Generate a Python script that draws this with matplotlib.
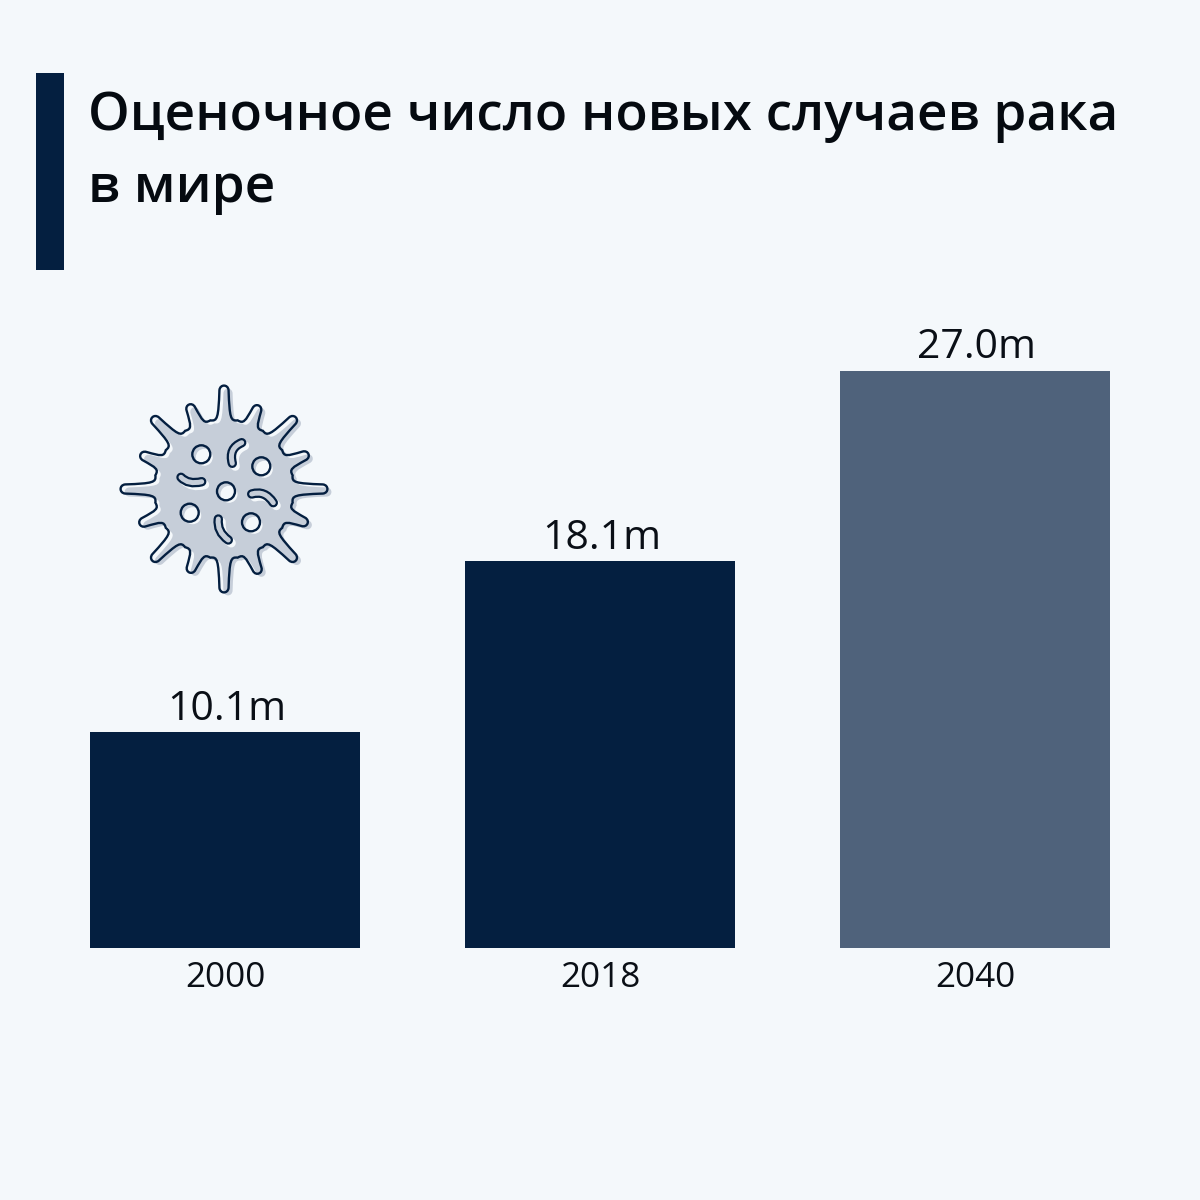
import numpy as np
import matplotlib.pyplot as plt
from matplotlib.patches import Circle, PathPatch, Rectangle
from matplotlib.path import Path

plt.rcParams["font.family"] = ["Open Sans", "DejaVu Sans"]

years = ["2000", "2018", "2040"]
cases = [10.1, 18.1, 27.0]
labels = ["10.1m", "18.1m", "27.0m"]
title_lines = ["Оценочное число новых случаев рака", "в мире"]

BG = "#f4f8fb"
NAVY = "#041f40"
SLATE = "#4f627b"
VIRUS_FILL = "#c6ced9"
bar_colors = [NAVY, NAVY, SLATE]

fig = plt.figure(figsize=(12, 12), dpi=100, facecolor=BG)

# overlay in pixel coords for the title block and the icon
over = fig.add_axes([0, 0, 1, 1])
over.set_xlim(0, 1200)
over.set_ylim(1200, 0)
over.axis("off")

over.add_patch(Rectangle((36, 73), 28, 197, color=NAVY, lw=0))
over.text(88, 130, title_lines[0], fontsize=38.2, fontweight=600, color="#050a10", va="baseline")
over.text(88, 202, title_lines[1], fontsize=38.2, fontweight=600, color="#050a10", va="baseline")

# bars
ax = fig.add_axes([90 / 1200, (1200 - 948) / 1200, 1020 / 1200, 577 / 1200])
ax.set_facecolor("none")
x = np.arange(len(years))
bars = ax.bar(x, cases, width=0.72, color=bar_colors)
ax.set_xlim(-0.36, 2.36)
ax.set_ylim(0, 27.0)
ax.set_xticks(x)
ax.set_xticklabels(years, fontsize=25.3, color="#0a0f16")
ax.tick_params(axis="x", length=0, pad=9.5)
ax.set_yticks([])
for s in ax.spines.values():
    s.set_visible(False)

for rect, lab in zip(bars, labels):
    ax.annotate(lab, (rect.get_x() + rect.get_width() / 2, rect.get_height()),
                xytext=(1, 9), textcoords="offset points", ha="center",
                va="baseline", fontsize=29.5, color="#0a0f16", annotation_clip=False)


# virus icon
def virus_path(cx, cy):
    tips = [104, 91, 102, 92] * 4
    n = len(tips)
    valley = 70
    half = np.pi / n
    verts, codes = [], []

    def pt(a, r):
        return (cx + r * np.sin(a), cy - r * np.cos(a))

    for i, tip in enumerate(tips):
        a = i * 2 * half
        if i == 0:
            verts.append(pt(a - half, valley))
            codes.append(Path.MOVETO)
        neck = 4.8 / tip
        verts += [pt(a - half * 0.5, valley - 2), pt(a - neck * 1.7, valley + 1),
                  pt(a - neck, tip - 5)]
        verts += [pt(a - neck * 0.8, tip + 1), pt(a + neck * 0.8, tip + 1),
                  pt(a + neck, tip - 5)]
        verts += [pt(a + neck * 1.7, valley + 1), pt(a + half * 0.5, valley - 2),
                  pt(a + half, valley)]
        codes += [Path.CURVE4] * 9
    verts.append(verts[0])
    codes.append(Path.CLOSEPOLY)
    return Path(verts, codes)


vx, vy = 224, 489
over.add_patch(PathPatch(virus_path(vx + 4, vy + 3), fc=VIRUS_FILL, ec="none"))
over.add_patch(PathPatch(virus_path(vx, vy), fc="none", ec=NAVY, lw=1.7))

circle_x = [201.3, 261.3, 226, 189.7, 251]
circle_y = [454.3, 466.3, 491.3, 512.7, 522.3]
for cx, cy in zip(circle_x, circle_y):
    over.add_patch(Circle((cx + 3, cy + 3), 8.5, fc=BG, ec="none"))
    over.add_patch(Circle((cx, cy), 9, fc="none", ec=NAVY, lw=1.7))

beans = [
    [(241.7, 442.7), (228.3, 448.3), (232.3, 463.3)],
    [(181, 477.3), (188.3, 485), (201.7, 481.7)],
    [(251.7, 494), (265, 490), (273.3, 502.7)],
    [(218.3, 519), (216.7, 531.7), (228.3, 540)],
]
for b in beans:
    codes = [Path.MOVETO, Path.CURVE3, Path.CURVE3]
    shifted = [(px + 3, py + 3) for px, py in b]
    over.add_patch(PathPatch(Path(shifted, codes), fc="none", ec=BG, lw=6.5, capstyle="round"))
    over.add_patch(PathPatch(Path(b, codes), fc="none", ec=NAVY, lw=6.8, capstyle="round"))
    over.add_patch(PathPatch(Path(b, codes), fc="none", ec=VIRUS_FILL, lw=3.6, capstyle="round"))

fig.savefig("out.png", dpi=100, facecolor=BG)
